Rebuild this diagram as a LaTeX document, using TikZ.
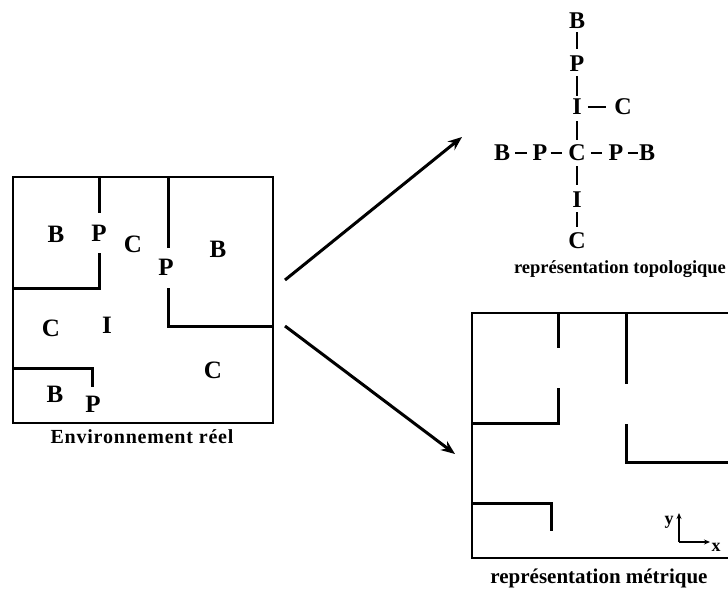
\documentclass[tikz,border=0pt]{standalone}
\usepackage{fontspec}
\setmainfont{Liberation Serif}
\usetikzlibrary{arrows.meta}
\newfontfamily\capfontA[LetterSpace=4]{Liberation Serif}
\tikzset{
  lbl/.style={font=\fontsize{24}{24}\selectfont\bfseries, inner sep=0pt},
  rlbl/.style={font=\fontsize{25}{25}\selectfont\bfseries, inner sep=0pt},
  captext/.style={font=\fontsize{18.5}{18.5}\selectfont\bfseries, inner sep=0pt},
  outline/.style={line width=1.5pt},
  wall/.style={line width=3pt},
  bar/.style={line width=2.8pt},
  bigarrow/.style={line width=3pt, -{Stealth[length=14pt,width=11pt]}},
  axis/.style={line width=1.1pt, -{Stealth[length=6pt,width=5pt]}},
  axlbl/.style={font=\fontsize{18}{18}\selectfont\bfseries, inner sep=0pt},
}
\begin{document}
\begin{tikzpicture}[x=1pt,y=-1pt]
\useasboundingbox (0,0) rectangle (728,591);
% ---------- real environment ----------
\draw[outline] (13,177) rectangle (273,423);
\draw[wall] (99,177) -- (99,213);
\draw[wall] (99,253) -- (99,288) -- (13,288);
\draw[wall] (168,177) -- (168,248);
\draw[wall] (168,288) -- (168,326) -- (273,326);
\draw[wall] (13,368) -- (92,368) -- (92,387);
\node[rlbl] (eB1) at (56,234) {B};
\node[rlbl] (eP1) at (99,233) {P};
\node[rlbl] (eC1) at (133,244) {C};
\node[rlbl] (eP2) at (166,267) {P};
\node[rlbl] (eB2) at (218,249) {B};
\node[rlbl] (eC2) at (51,328) {C};
\node[rlbl] (eI) at (107,325) {I};
\node[rlbl] (eC3) at (213,370) {C};
\node[rlbl] (eB3) at (55,394) {B};
\node[rlbl] (eP3) at (93,404) {P};
\node[font=\fontsize{20}{20}\selectfont\bfseries\capfontA, inner sep=0pt] (capE) at (142,437) {Environnement réel};
% ---------- arrows ----------
\coordinate (a1s) at (285,280);
\coordinate (a1e) at (462,137);
\coordinate (a2s) at (285,326);
\coordinate (a2e) at (455,454);
\draw[bigarrow] (a1s) -- (a1e);
\draw[bigarrow] (a2s) -- (a2e);
% ---------- topological ----------
\node[lbl] (tB1) at (577,21) {B};
\node[lbl] (tP1) at (577,64) {P};
\node[lbl] (tI1) at (577,107) {I};
\node[lbl] (tC1) at (623,107) {C};
\node[lbl] (tB2) at (502,153) {B};
\node[lbl] (tP2) at (540,153) {P};
\node[lbl] (tC) at (577,153) {C};
\node[lbl] (tP3) at (616,153) {P};
\node[lbl] (tB3) at (647,153) {B};
\node[lbl] (tI2) at (577,200) {I};
\node[lbl] (tC2) at (577,241) {C};
\draw[bar, shorten <=3pt, shorten >=7pt] (tB1.south) -- (tP1.north);
\draw[bar, shorten <=4pt, shorten >=3pt] (tP1.south) -- (tI1.north);
\draw[bar, shorten <=6pt, shorten >=5pt] (tI1.south) -- (tC.north);
\draw[bar, shorten <=5pt, shorten >=7pt] (tC.south) -- (tI2.north);
\draw[bar, shorten <=4pt, shorten >=6pt] (tI2.south) -- (tC2.north);
\draw[bar, shorten <=6pt, shorten >=8pt] (tI1.east) -- (tC1.west);
\draw[bar, shorten <=5pt, shorten >=5pt] (tB2.east) -- (tP2.west);
\draw[bar, shorten <=3pt, shorten >=6pt] (tP2.east) -- (tC.west);
\draw[bar, shorten <=5pt, shorten >=6pt] (tC.east) -- (tP3.west);
\draw[bar, shorten <=4pt, shorten >=1pt] (tP3.east) -- (tB3.west);
\node[captext, anchor=base] (capT) at (620,273) {représentation topologique};
% ---------- metric ----------
\draw[outline] (728,313) -- (472,313) -- (472,558) -- (728,558);
\draw[wall] (558,313) -- (558,348);
\draw[wall] (558,388) -- (558,423) -- (472,423);
\draw[wall] (626,313) -- (626,384);
\draw[wall] (626,424) -- (626,462) -- (728,462);
\draw[wall] (472,503) -- (551,503) -- (551,531);
\coordinate (ax0) at (679,542);
\coordinate (axY) at (679,513);
\coordinate (axX) at (710,542);
\draw[axis] (ax0) -- (axY);
\draw[axis] (ax0) -- (axX);
\node[axlbl] (ly) at (669,522) {y};
\node[axlbl] (lx) at (716,547) {x};
\node[font=\fontsize{21}{21}\selectfont\bfseries, inner sep=0pt] (capM) at (599,578) {représentation métrique};
\end{tikzpicture}
\end{document}
